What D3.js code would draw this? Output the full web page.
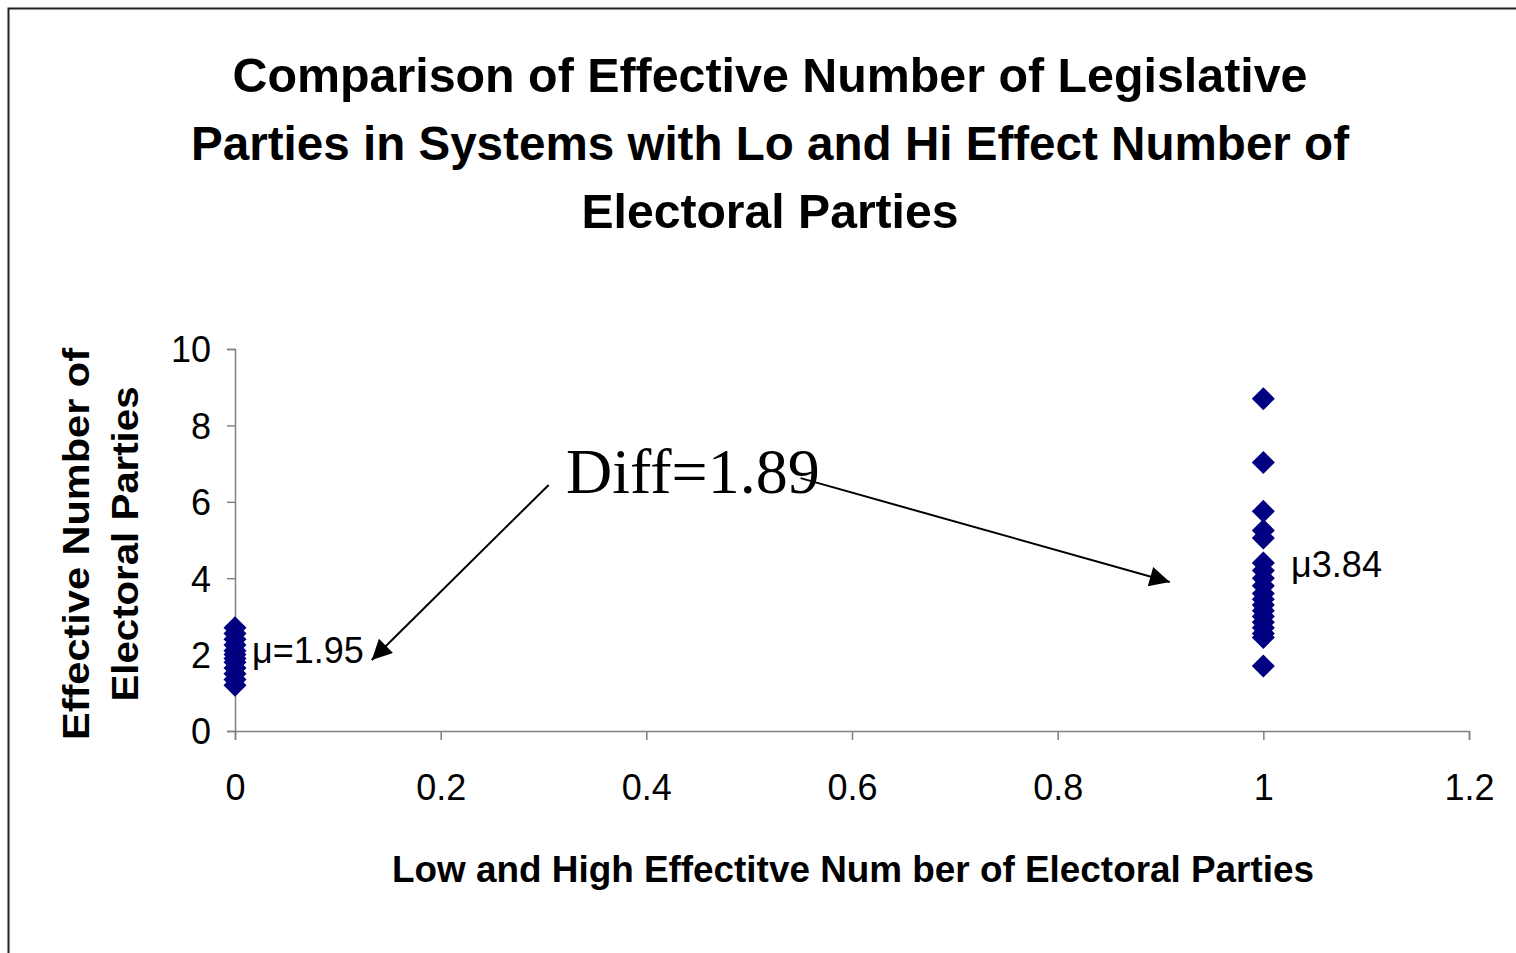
<!DOCTYPE html>
<html>
<head>
<meta charset="utf-8">
<script src="https://cdn.jsdelivr.net/npm/d3@7"></script>
<style>
  body { margin: 0; background: #fff; }
  svg { display: block; }
</style>
</head>
<body>
<div id="chart"></div>
<script>
// values
var titleLines = ["Comparison of Effective Number of Legislative",
                  "Parties in Systems with Lo and Hi Effect Number of",
                  "Electoral Parties"];
var xTitle = "Low and High Effectitve Num ber of Electoral Parties";
var yTitleLines = ["Effective Number of", "Electoral Parties"];

var xTicks = [0, 0.2, 0.4, 0.6, 0.8, 1, 1.2];
var yTicks = [0, 2, 4, 6, 8, 10];

var loValues = [2.7, 2.55, 2.4, 2.25, 2.1, 2.0, 1.9, 1.8, 1.65, 1.5, 1.35, 1.2];
var hiValues = [8.7, 7.03, 5.75, 5.25, 5.05, 4.4, 4.2, 4.0, 3.8, 3.6, 3.45, 3.3,
                3.15, 3.0, 2.85, 2.7, 2.55, 2.45, 1.7];

var notes = [
  {text: "Diff=1.89", x: 0.322, y: 6.23, cls: "serif"},
  {text: "\u03bc=1.95", x: 0.0165, y: 1.78, cls: "mu"},
  {text: "\u03bc3.84", x: 1.027, y: 4.03, cls: "mu"}
];
var arrows = [
  {x1: 0.305, y1: 6.44, x2: 0.133, y2: 1.86},
  {x1: 0.55, y1: 6.62, x2: 0.909, y2: 3.9}
];

var W = 1516, H = 953;
var margin = {left: 235, right: 47, top: 349, bottom: 222};
var width = W - margin.left - margin.right,
    height = H - margin.top - margin.bottom;

var svg = d3.select("#chart").append("svg")
    .attr("width", W).attr("height", H);

// outer frame (runs off the right and bottom)
svg.append("rect")
    .attr("x", 8.5).attr("y", 8.5)
    .attr("width", W + 20).attr("height", H + 20)
    .attr("fill", "none").attr("stroke", "#222").attr("stroke-width", 2);

var titleLen = [1075, 1158, 377];
svg.selectAll(".title").data(titleLines).enter().append("text")
    .attr("class", "title")
    .attr("x", 770).attr("y", function(d, i) { return 92 + i * 68; })
    .attr("text-anchor", "middle")
    .attr("textLength", function(d, i) { return titleLen[i]; })
    .attr("lengthAdjust", "spacingAndGlyphs")
    .style("font-family", "Liberation Sans, Arial, sans-serif")
    .style("font-weight", "bold").style("font-size", "48px")
    .text(function(d) { return d; });

var g = svg.append("g")
    .attr("transform", "translate(" + margin.left + "," + margin.top + ")");

var x = d3.scaleLinear().domain([0, 1.2]).range([0, width]);
var y = d3.scaleLinear().domain([0, 10]).range([height, 0]);

var xAxis = g.append("g")
    .attr("transform", "translate(0," + height + ")")
    .call(d3.axisBottom(x).tickValues(xTicks).tickSize(9).tickPadding(34)
        .tickFormat(function(d) { return d; }));
var yAxis = g.append("g")
    .call(d3.axisLeft(y).tickValues(yTicks).tickSize(8).tickPadding(16));

[xAxis, yAxis].forEach(function(a) {
  a.select(".domain").attr("stroke", "#808080").attr("stroke-width", 1.5);
  a.selectAll(".tick line").attr("stroke", "#808080").attr("stroke-width", 1.5);
  a.selectAll("text").attr("fill", "#000")
    .style("font-family", "Liberation Sans, Arial, sans-serif")
    .style("font-size", "36px");
});
xAxis.selectAll("text").attr("dy", "0.71em");
yAxis.selectAll("text").attr("dy", "0.36em");

// axis titles
svg.append("text")
    .attr("x", 853).attr("y", 882)
    .attr("text-anchor", "middle")
    .attr("textLength", 922).attr("lengthAdjust", "spacingAndGlyphs")
    .style("font-family", "Liberation Sans, Arial, sans-serif")
    .style("font-weight", "bold").style("font-size", "36px")
    .text(xTitle);

var yTitleLen = [392, 315];
svg.selectAll(".ytitle").data(yTitleLines).enter().append("text")
    .attr("class", "ytitle")
    .attr("transform", function(d, i) {
      return "translate(" + (89 + i * 49) + ",544) rotate(-90)";
    })
    .attr("text-anchor", "middle")
    .attr("textLength", function(d, i) { return yTitleLen[i]; })
    .attr("lengthAdjust", "spacingAndGlyphs")
    .style("font-family", "Liberation Sans, Arial, sans-serif")
    .style("font-weight", "bold").style("font-size", "36px")
    .text(function(d) { return d; });

// diamonds
var r = 11.5;
var diamond = "M0," + (-r) + "L" + r + ",0L0," + r + "L" + (-r) + ",0Z";
var pts = loValues.map(function(v) { return {x: 0, y: v}; })
    .concat(hiValues.map(function(v) { return {x: 1, y: v}; }));
g.selectAll(".pt").data(pts).enter().append("path")
    .attr("class", "pt")
    .attr("d", diamond)
    .attr("transform", function(d) { return "translate(" + x(d.x) + "," + y(d.y) + ")"; })
    .attr("fill", "#000080");

// annotations
svg.append("defs").append("marker")
    .attr("id", "arr").attr("viewBox", "0 0 10 10")
    .attr("refX", 10).attr("refY", 5)
    .attr("markerWidth", 24).attr("markerHeight", 20)
    .attr("markerUnits", "userSpaceOnUse")
    .attr("orient", "auto")
    .append("path").attr("d", "M0,0L10,5L0,10Z").attr("fill", "#000");

g.selectAll(".arrow").data(arrows).enter().append("line")
    .attr("class", "arrow")
    .attr("x1", function(d) { return x(d.x1); })
    .attr("y1", function(d) { return y(d.y1); })
    .attr("x2", function(d) { return x(d.x2); })
    .attr("y2", function(d) { return y(d.y2); })
    .attr("stroke", "#000").attr("stroke-width", 2)
    .attr("marker-end", "url(#arr)");

g.selectAll(".note").data(notes).enter().append("text")
    .attr("class", "note")
    .attr("x", function(d) { return x(d.x); })
    .attr("y", function(d) { return y(d.y); })
    .style("font-family", function(d) {
      return d.cls == "serif" ? "Liberation Serif, Times New Roman, serif"
                              : "Liberation Sans, Arial, sans-serif";
    })
    .style("font-size", function(d) { return d.cls == "serif" ? "64px" : "36px"; })
    .text(function(d) { return d.text; });
</script>
</body>
</html>
